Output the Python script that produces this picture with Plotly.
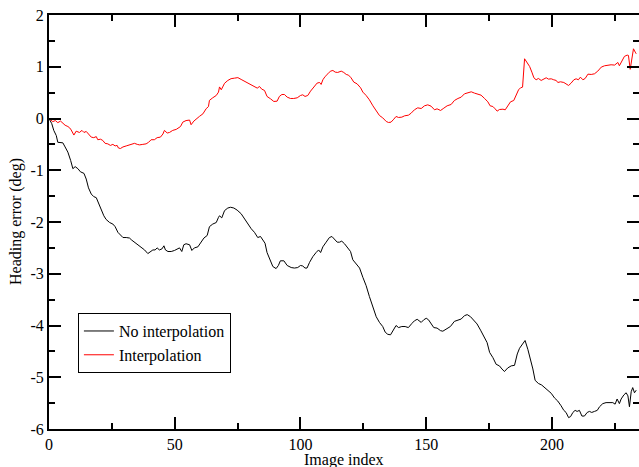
import plotly.graph_objects as go

# ---- Data ----
black_x = [0, 1.1, 1.9, 2.9, 3.5, 4.6, 5.5, 6.4, 7.5, 8.6, 9.5, 10.4, 11.5, 12.5, 13.9, 14.8, 15.7, 16.8, 17.8, 18.8,
           19.7, 20.7, 21.8, 22.7, 24.1, 25.4, 26.3, 27.4, 28.4, 29.4, 30.7, 32.0, 32.9, 34.0, 35.0, 36.6, 38.0, 39.3,
           40.4, 41.3, 42.2, 43.0, 43.9, 44.9, 45.7, 46.3, 47.3, 48.6, 49.9, 51.0, 51.9, 52.8, 53.6, 54.5, 55.9, 56.8,
           57.8, 59.2, 60.5, 61.6, 62.9, 63.8, 65.1, 66.5, 67.4, 67.8, 68.7, 69.8, 71.1, 72.2, 73.5, 74.8, 76.4, 77.7,
           79.1, 80.4, 81.7, 83.0, 84.1, 85.0, 85.9, 86.7, 87.7, 89.0, 90.3, 91.2, 92.0, 93.4, 94.7, 96.3, 97.6, 98.9,
           100.0, 100.9, 101.8, 102.6, 103.6, 104.9, 106.2, 107.2, 108.0, 108.9, 110.2, 111.5, 112.5, 113.5, 114.6,
           115.5, 116.4, 117.5, 118.8, 119.9, 120.8, 122.1, 123.5, 124.8, 126.1, 127.4, 128.8, 130.1, 131.4, 132.7,
           133.7, 134.7, 135.8, 136.7, 138.0, 139.0, 140.3, 141.6, 142.9, 144.3, 145.3, 146.4, 148.0, 149.0, 150.0,
           150.9, 152.0, 153.0, 154.3, 155.7, 156.6, 157.9, 159.6, 161.2, 162.6, 163.9, 165.2, 166.3, 167.6, 168.9,
           170.2, 171.6, 172.9, 174.2, 175.2, 176.5, 177.8, 179.1, 180.1, 181.1, 182.4, 183.8, 185.1, 186.2, 187.1,
           188.4, 189.3, 190.4, 191.5, 192.4, 193.3, 194.6, 195.9, 197.3, 198.6, 199.7, 201.0, 202.3, 203.6, 204.7,
           205.6, 206.6, 207.4, 208.3, 209.2, 210.0, 210.9, 211.9, 212.9, 214.0, 214.9, 215.8, 216.9, 218.0, 218.9,
           220.2, 221.5, 222.9, 224.2, 225.1, 225.9, 226.8, 227.5, 228.6, 229.5, 230.2, 230.8, 231.5, 232.1, 232.8,
           233.5]
black_y = [0.0, -0.10, -0.23, -0.33, -0.46, -0.46, -0.47, -0.55, -0.65, -0.81, -0.97, -0.93, -0.97, -1.03, -1.06,
           -1.17, -1.34, -1.46, -1.51, -1.53, -1.64, -1.77, -1.88, -1.95, -2.01, -2.04, -2.09, -2.20, -2.26, -2.30,
           -2.30, -2.31, -2.35, -2.39, -2.44, -2.49, -2.54, -2.61, -2.57, -2.54, -2.54, -2.50, -2.54, -2.52, -2.46,
           -2.54, -2.57, -2.57, -2.55, -2.52, -2.50, -2.57, -2.44, -2.42, -2.44, -2.55, -2.50, -2.48, -2.39, -2.31,
           -2.26, -2.09, -2.04, -2.01, -1.91, -1.88, -1.92, -1.78, -1.73, -1.715, -1.73, -1.77, -1.84, -1.94, -2.05,
           -2.13, -2.20, -2.30, -2.28, -2.35, -2.41, -2.59, -2.71, -2.86, -2.90, -2.84, -2.75, -2.75, -2.84, -2.88,
           -2.89, -2.88, -2.84, -2.85, -2.89, -2.89, -2.78, -2.67, -2.59, -2.54, -2.59, -2.48, -2.39, -2.30, -2.28,
           -2.33, -2.39, -2.39, -2.37, -2.42, -2.49, -2.57, -2.73, -2.80, -2.89, -3.07, -3.23, -3.44, -3.65, -3.83,
           -3.94, -4.02, -4.13, -4.17, -4.18, -4.10, -4.00, -4.04, -4.02, -4.02, -4.04, -3.96, -3.91, -3.88, -3.94,
           -3.89, -3.86, -3.89, -3.96, -4.04, -4.05, -4.10, -4.11, -4.07, -4.02, -3.92, -3.89, -3.875, -3.81, -3.79,
           -3.83, -3.89, -3.97, -4.09, -4.20, -4.33, -4.52, -4.62, -4.75, -4.78, -4.84, -4.89, -4.82, -4.78, -4.77,
           -4.55, -4.44, -4.36, -4.29, -4.46, -4.65, -4.84, -5.06, -5.12, -5.15, -5.21, -5.26, -5.31, -5.40, -5.46,
           -5.55, -5.64, -5.68, -5.78, -5.76, -5.68, -5.64, -5.66, -5.64, -5.75, -5.75, -5.68, -5.66, -5.68, -5.66,
           -5.64, -5.57, -5.51, -5.49, -5.49, -5.49, -5.52, -5.42, -5.51, -5.42, -5.34, -5.30, -5.36, -5.57, -5.28,
           -5.20, -5.30, -5.25]

red_x = [0, 1.5, 2.5, 3.5, 4.6, 5.5, 6.4, 7.5, 8.2, 8.8, 9.9, 10.8, 12.1, 13.1, 13.9, 14.8, 16.1, 16.8, 17.8, 18.8,
         19.4, 20.5, 21.4, 22.3, 23.4, 24.4, 25.4, 26.3, 27.1, 27.6, 28.4, 29.4, 30.7, 32.0, 32.9, 34.0, 35.1, 36.0,
         37.3, 38.6, 39.6, 40.6, 41.9, 43.0, 44.3, 45.3, 45.9, 47.0, 47.9, 49.2, 50.6, 51.5, 52.3, 53.2, 54.5, 55.9,
         56.5, 57.6, 58.5, 59.8, 61.2, 62.5, 63.4, 63.8, 65.1, 66.5, 67.4, 67.8, 68.5, 69.8, 71.1, 72.4, 73.8, 75.1,
         76.4, 77.7, 79.1, 80.4, 81.7, 82.8, 83.7, 84.6, 85.7, 86.7, 88.1, 89.4, 90.7, 91.6, 92.6, 93.6, 94.7, 96.0,
         97.3, 98.7, 100.0, 100.9, 101.8, 102.9, 104.0, 105.3, 106.6, 107.6, 108.2, 108.9, 109.8, 110.9, 111.9,
         112.9, 113.8, 114.8, 116.2, 117.2, 118.2, 119.1, 120.1, 121.2, 122.5, 123.9, 124.8, 126.1, 127.4, 128.8,
         130.1, 131.4, 132.7, 134.1, 135.0, 136.0, 137.1, 138.0, 139.0, 140.3, 141.4, 142.9, 144.0, 145.3, 146.6,
         148.0, 149.3, 150.6, 151.9, 153.3, 154.3, 155.7, 157.0, 158.3, 159.9, 161.2, 162.6, 163.9, 165.2, 166.5,
         167.9, 169.2, 170.5, 171.8, 173.2, 174.5, 175.4, 176.5, 177.4, 178.2, 179.1, 180.5, 181.4, 182.4, 183.5,
         184.8, 185.8, 186.7, 187.5, 188.3, 189.1, 190.1, 191.1, 192.0, 192.8, 193.7, 194.6, 195.7, 196.8, 197.7,
         198.6, 199.7, 200.7, 201.7, 202.3, 203.4, 204.7, 205.6, 206.6, 207.6, 208.7, 209.6, 210.5, 211.3, 212.3,
         213.2, 214.3, 215.6, 216.9, 218.2, 219.6, 220.9, 222.2, 223.5, 224.9, 225.5, 226.2, 226.8, 227.8, 228.8,
         229.9, 230.4, 231.1, 231.8, 232.4, 233.1, 233.5]
red_y = [0.0, -0.06, -0.04, -0.08, -0.05, -0.10, -0.13, -0.155, -0.18, -0.22, -0.32, -0.245, -0.27, -0.23, -0.27,
         -0.25, -0.32, -0.36, -0.37, -0.35, -0.41, -0.40, -0.425, -0.48, -0.49, -0.52, -0.50, -0.53, -0.52, -0.57,
         -0.58, -0.55, -0.53, -0.51, -0.50, -0.48, -0.50, -0.51, -0.50, -0.49, -0.46, -0.41, -0.41, -0.37, -0.36,
         -0.30, -0.23, -0.28, -0.27, -0.23, -0.21, -0.18, -0.155, -0.07, -0.04, -0.03, -0.12, -0.05, -0.01, 0.04,
         0.09, 0.19, 0.23, 0.35, 0.40, 0.445, 0.51, 0.61, 0.555, 0.68, 0.735, 0.77, 0.78, 0.79, 0.755, 0.72, 0.683,
         0.651, 0.619, 0.587, 0.619, 0.567, 0.542, 0.426, 0.38, 0.329, 0.335, 0.426, 0.464, 0.464, 0.413, 0.387,
         0.387, 0.40, 0.445, 0.458, 0.426, 0.445, 0.529, 0.606, 0.684, 0.696, 0.658, 0.748, 0.812, 0.864, 0.915,
         0.928, 0.896, 0.89, 0.915, 0.89, 0.851, 0.838, 0.787, 0.703, 0.67, 0.593, 0.51, 0.445, 0.361, 0.245, 0.155,
         0.058, 0.013, -0.058, -0.077, -0.071, -0.013, 0.039, 0.02, 0.026, 0.052, 0.064, 0.103, 0.168, 0.206, 0.193,
         0.245, 0.264, 0.239, 0.168, 0.187, 0.155, 0.20, 0.245, 0.271, 0.348, 0.387, 0.413, 0.477, 0.503, 0.516,
         0.49, 0.464, 0.451, 0.387, 0.322, 0.245, 0.232, 0.187, 0.142, 0.174, 0.18, 0.168, 0.245, 0.322, 0.348,
         0.445, 0.554, 0.593, 0.606, 1.154, 1.09, 1.006, 0.896, 0.787, 0.748, 0.774, 0.735, 0.767, 0.787, 0.761,
         0.767, 0.748, 0.735, 0.696, 0.709, 0.696, 0.67, 0.638, 0.684, 0.748, 0.767, 0.748, 0.799, 0.748, 0.774,
         0.857, 0.851, 0.864, 0.915, 0.993, 1.019, 1.032, 1.038, 1.032, 1.058, 1.083, 1.019, 1.122, 1.2, 1.225,
         1.219, 0.95, 1.154, 1.347, 1.283, 1.25]

series_names = ["No interpolation", "Interpolation"]
x_tickvals = [0, 50, 100, 150, 200]
x_ticktext = ["0", "50", "100", "150", "200"]
y_tickvals = [-6, -5, -4, -3, -2, -1, 0, 1, 2]
y_ticktext = ["-6", "-5", "-4", "-3", "-2", "-1", "0", "1", "2"]
x_title = "Image index"
y_title = "Heading error (deg)"

FONT = "Liberation Serif"

fig = go.Figure()
fig.add_trace(go.Scatter(x=black_x, y=black_y, mode="lines", name=series_names[0],
                         line=dict(color="black", width=1)))
fig.add_trace(go.Scatter(x=red_x, y=red_y, mode="lines", name=series_names[1],
                         line=dict(color="#ff0000", width=1)))
# invisible trace to activate the right-hand tick axis
fig.add_trace(go.Scatter(x=[None], y=[None], yaxis="y2", showlegend=False, hoverinfo="skip"))

axis_common = dict(showgrid=False, zeroline=False, ticks="inside", linecolor="black",
                   tickcolor="black", tickwidth=1.5, ticklen=12,
                   tickfont=dict(family=FONT, size=16, color="black"))
minor_x = dict(dtick=25, tick0=0, ticklen=6, ticks="inside", tickcolor="black", tickwidth=1.5)
minor_y = dict(dtick=0.5, tick0=-6, ticklen=6, ticks="inside", tickcolor="black", tickwidth=1.5)

fig.update_layout(
    width=639, height=467,
    margin=dict(l=49, r=0, t=15, b=38),
    paper_bgcolor="white", plot_bgcolor="white",
    font=dict(family=FONT, size=16, color="black"),
    xaxis=dict(range=[0, 234.6], tickmode="array", tickvals=x_tickvals, ticktext=x_ticktext,
               showline=True, linewidth=2, mirror="ticks", minor=minor_x, **axis_common),
    yaxis=dict(range=[-6, 2], tickmode="array", tickvals=y_tickvals, ticktext=y_ticktext,
               showline=True, linewidth=2, mirror=False, minor=minor_y, **axis_common),
    yaxis2=dict(range=[-6, 2], tickmode="array", tickvals=y_tickvals, overlaying="y", side="right",
                anchor="x", showline=False, showticklabels=False, minor=minor_y, **axis_common),
    showlegend=True,
    legend=dict(x=0.049, y=0.28, xanchor="left", yanchor="top",
                bordercolor="black", borderwidth=1, bgcolor="white",
                font=dict(family=FONT, size=16, color="black"),
                itemwidth=30, tracegroupgap=0),
    annotations=[
        dict(text=x_title, xref="paper", yref="paper", x=0.5, y=0, xanchor="center", yanchor="middle",
             yshift=-31, showarrow=False, font=dict(family=FONT, size=16, color="black")),
        dict(text=y_title, xref="paper", yref="paper", x=0, y=0.5, xanchor="center", yanchor="middle",
             xshift=-33, textangle=-90, showarrow=False, font=dict(family=FONT, size=16, color="black")),
    ],
)

fig.write_html("out.html")
